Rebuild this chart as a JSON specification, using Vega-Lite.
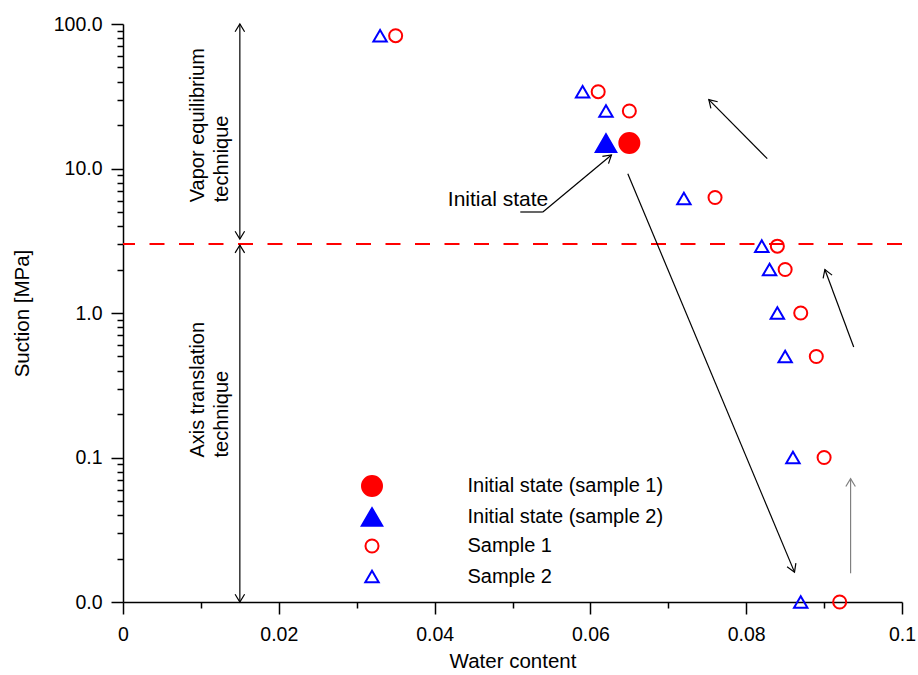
{
  "$schema": "https://vega.github.io/schema/vega-lite/v6.json",
  "width": 779,
  "height": 578,
  "autosize": {"type": "none"},
  "padding": {"left": 123, "top": 24, "right": 16, "bottom": 73},
  "background": "white",
  "config": {
    "view": {"stroke": null},
    "font": "Liberation Sans",
    "axis": {
      "labelFont": "Liberation Sans",
      "labelFontSize": 19.5,
      "labelColor": "#000000",
      "titleFont": "Liberation Sans",
      "titleFontSize": 20.5,
      "titleFontWeight": "normal",
      "titleColor": "#000000",
      "domainColor": "#000000",
      "domainWidth": 1.5,
      "tickColor": "#000000",
      "tickWidth": 1.5,
      "grid": false,
      "labelFlush": false,
      "labelOverlap": false
    },
    "legend": {
      "gridAlign": "all"
    }
  },
  "datasets": {
    "points": [
      {"w": 0.065, "s": 15, "series": "Initial state (sample 1)"},
      {"w": 0.062, "s": 15, "series": "Initial state (sample 2)"},
      {"w": 0.035, "s": 83, "series": "Sample 1"},
      {"w": 0.061, "s": 34, "series": "Sample 1"},
      {"w": 0.065, "s": 25, "series": "Sample 1"},
      {"w": 0.076, "s": 6.3, "series": "Sample 1"},
      {"w": 0.084, "s": 2.9, "series": "Sample 1"},
      {"w": 0.085, "s": 2.0, "series": "Sample 1"},
      {"w": 0.087, "s": 1.0, "series": "Sample 1"},
      {"w": 0.089, "s": 0.5, "series": "Sample 1"},
      {"w": 0.090, "s": 0.1, "series": "Sample 1"},
      {"w": 0.092, "s": 0.01, "series": "Sample 1"},
      {"w": 0.033, "s": 83, "series": "Sample 2"},
      {"w": 0.059, "s": 34, "series": "Sample 2"},
      {"w": 0.062, "s": 25, "series": "Sample 2"},
      {"w": 0.072, "s": 6.2, "series": "Sample 2"},
      {"w": 0.082, "s": 2.9, "series": "Sample 2"},
      {"w": 0.083, "s": 2.0, "series": "Sample 2"},
      {"w": 0.084, "s": 1.0, "series": "Sample 2"},
      {"w": 0.085, "s": 0.5, "series": "Sample 2"},
      {"w": 0.086, "s": 0.1, "series": "Sample 2"},
      {"w": 0.087, "s": 0.01, "series": "Sample 2"}
    ],
    "arrows": [
      {"id": "A1", "xs": 0.015, "ys": 3.25, "xe": 0.015, "ye": 100, "head": "both"},
      {"id": "A2", "xs": 0.015, "ys": 2.95, "xe": 0.015, "ye": 0.01, "head": "both"},
      {"id": "L1", "xs": 0.051, "ys": 5.0, "xe": 0.0539, "ye": 5.0, "head": "none"},
      {"id": "L2", "xs": 0.0539, "ys": 5.0, "xe": 0.0627, "ye": 12.4, "head": "end"},
      {"id": "B", "xs": 0.0648, "ys": 9.2, "xe": 0.0862, "ye": 0.0161, "head": "end"},
      {"id": "C", "xs": 0.0827, "ys": 11.7, "xe": 0.0752, "ye": 30.0, "head": "end"},
      {"id": "D", "xs": 0.0938, "ys": 0.582, "xe": 0.0901, "ye": 2.0, "head": "end"},
      {"id": "E", "xs": 0.0934, "ys": 0.0158, "xe": 0.0934, "ye": 0.0713, "head": "end"}
    ],
    "notes": [
      {"x": 0.0096, "y": 5.84, "t": "Vapor equilibrium\ntechnique"},
      {"x": 0.0096, "y": 0.1, "t": "Axis translation\ntechnique"}
    ],
    "callout": [
      {"x": 0.0417, "y": 5.51, "t": "Initial state"}
    ]
  },
  "layer": [
    {
      "data": {"values": [{"v": 3}]},
      "mark": {"type": "rule", "color": "#FF0000", "strokeWidth": 2, "strokeDash": [15, 14.5]},
      "encoding": {
        "y": {"field": "v", "type": "quantitative", "scale": {"type": "log", "domain": [0.01, 100], "nice": false}}
      }
    },
    {
      "data": {"name": "arrows"},
      "mark": {"type": "rule", "strokeWidth": 1.2},
      "encoding": {
        "x": {"field": "xs", "type": "quantitative"},
        "y": {"field": "ys", "type": "quantitative", "scale": {"type": "log"}},
        "x2": {"field": "xe"},
        "y2": {"field": "ye"},
        "stroke": {"condition": {"test": "datum.id === 'E'", "value": "#808080"}, "value": "#000000"}
      }
    },
    {
      "data": {"name": "arrows"},
      "transform": [{"filter": "datum.head !== 'none'"}],
      "mark": {
        "type": "point",
        "shape": "M-0.55,0.9L0,0L0.55,0.9",
        "size": 300,
        "filled": false,
        "opacity": 1,
        "strokeWidth": 1.2,
        "angle": {"expr": "atan2(scale('x', datum.xe) - scale('x', datum.xs), scale('y', datum.ys) - scale('y', datum.ye)) * 180 / PI"}
      },
      "encoding": {
        "x": {"field": "xe", "type": "quantitative"},
        "y": {"field": "ye", "type": "quantitative", "scale": {"type": "log"}},
        "stroke": {"condition": {"test": "datum.id === 'E'", "value": "#808080"}, "value": "#000000"}
      }
    },
    {
      "data": {"name": "arrows"},
      "transform": [{"filter": "datum.head === 'both'"}],
      "mark": {
        "type": "point",
        "shape": "M-0.55,0.9L0,0L0.55,0.9",
        "size": 300,
        "filled": false,
        "opacity": 1,
        "strokeWidth": 1.2,
        "stroke": "#000000",
        "angle": {"expr": "atan2(scale('x', datum.xs) - scale('x', datum.xe), scale('y', datum.ye) - scale('y', datum.ys)) * 180 / PI"}
      },
      "encoding": {
        "x": {"field": "xs", "type": "quantitative"},
        "y": {"field": "ys", "type": "quantitative", "scale": {"type": "log"}}
      }
    },
    {
      "data": {"name": "notes"},
      "mark": {"type": "text", "angle": 270, "align": "left", "baseline": "middle", "lineBreak": "\n", "fontSize": 20, "lineHeight": 24, "font": "Liberation Sans", "color": "#000000"},
      "encoding": {
        "x": {"field": "x", "type": "quantitative"},
        "y": {"field": "y", "type": "quantitative", "scale": {"type": "log"}},
        "text": {"field": "t"}
      }
    },
    {
      "data": {"name": "callout"},
      "mark": {"type": "text", "align": "left", "baseline": "alphabetic", "fontSize": 21, "font": "Liberation Sans", "color": "#000000"},
      "encoding": {
        "x": {"field": "x", "type": "quantitative"},
        "y": {"field": "y", "type": "quantitative", "scale": {"type": "log"}},
        "text": {"field": "t"}
      }
    },
    {
      "data": {"name": "points"},
      "mark": {"type": "point", "strokeWidth": 2, "opacity": 1},
      "encoding": {
        "x": {
          "field": "w", "type": "quantitative",
          "scale": {"domain": [0, 0.1], "nice": false, "zero": false},
          "axis": {
            "title": "Water content",
            "values": [0, 0.005, 0.01, 0.015, 0.02, 0.025, 0.03, 0.035, 0.04, 0.045, 0.05, 0.055, 0.06, 0.065, 0.07, 0.075, 0.08, 0.085, 0.09, 0.095, 0.1],
            "labelExpr": "abs(datum.value * 50 - round(datum.value * 50)) < 1e-6 ? format(datum.value, '.2~f') : ''",
            "tickSize": {"condition": {"test": "abs(datum.value * 50 - round(datum.value * 50)) < 1e-6", "value": 12}, "value": 6},
            "labelPadding": 11,
            "titlePadding": 8
          }
        },
        "y": {
          "field": "s", "type": "quantitative",
          "scale": {"type": "log", "domain": [0.01, 100], "nice": false},
          "axis": {
            "title": "Suction [MPa]",
            "values": [0.01, 0.02, 0.03, 0.04, 0.05, 0.06, 0.07, 0.08, 0.09, 0.1, 0.2, 0.3, 0.4, 0.5, 0.6, 0.7, 0.8, 0.9, 1, 2, 3, 4, 5, 6, 7, 8, 9, 10, 20, 30, 40, 50, 60, 70, 80, 90, 100],
            "labelExpr": "abs(log(datum.value) / LN10 - round(log(datum.value) / LN10)) < 1e-6 ? format(datum.value, '.1f') : ''",
            "tickSize": {"condition": {"test": "abs(log(datum.value) / LN10 - round(log(datum.value) / LN10)) < 1e-6", "value": 12}, "value": 6},
            "labelPadding": 9,
            "titlePadding": 21
          }
        },
        "shape": {
          "field": "series", "type": "nominal",
          "scale": {"domain": ["Initial state (sample 1)", "Initial state (sample 2)", "Sample 1", "Sample 2"], "range": ["circle", "triangle-up", "circle", "triangle-up"]},
          "legend": {"title": null, "orient": "none", "legendX": 237.5, "legendY": 451, "padding": 0, "labelFontSize": 20, "labelFont": "Liberation Sans", "labelColor": "#000000", "labelOffset": 84, "rowPadding": 3.5, "gridAlign": "all", "symbolStrokeWidth": 2, "labelLimit": 400}
        },
        "stroke": {
          "field": "series", "type": "nominal",
          "scale": {"domain": ["Initial state (sample 1)", "Initial state (sample 2)", "Sample 1", "Sample 2"], "range": ["#FF0000", "#0000FF", "#FF0000", "#0000FF"]},
          "legend": {"title": null, "orient": "none", "legendX": 237.5, "legendY": 451, "padding": 0, "labelFontSize": 20, "labelFont": "Liberation Sans", "labelColor": "#000000", "labelOffset": 84, "rowPadding": 3.5, "gridAlign": "all", "symbolStrokeWidth": 2, "labelLimit": 400}
        },
        "fill": {
          "field": "series", "type": "nominal",
          "scale": {"domain": ["Initial state (sample 1)", "Initial state (sample 2)", "Sample 1", "Sample 2"], "range": ["#FF0000", "#0000FF", "transparent", "transparent"]},
          "legend": {"title": null, "orient": "none", "legendX": 237.5, "legendY": 451, "padding": 0, "labelFontSize": 20, "labelFont": "Liberation Sans", "labelColor": "#000000", "labelOffset": 84, "rowPadding": 3.5, "gridAlign": "all", "symbolStrokeWidth": 2, "labelLimit": 400}
        },
        "size": {
          "field": "series", "type": "nominal",
          "scale": {"type": "ordinal", "domain": ["Initial state (sample 1)", "Initial state (sample 2)", "Sample 1", "Sample 2"], "range": [400, 420, 170, 180]},
          "legend": {"title": null, "orient": "none", "legendX": 237.5, "legendY": 451, "padding": 0, "labelFontSize": 20, "labelFont": "Liberation Sans", "labelColor": "#000000", "labelOffset": 84, "rowPadding": 3.5, "gridAlign": "all", "symbolStrokeWidth": 2, "labelLimit": 400}
        }
      }
    }
  ]
}
